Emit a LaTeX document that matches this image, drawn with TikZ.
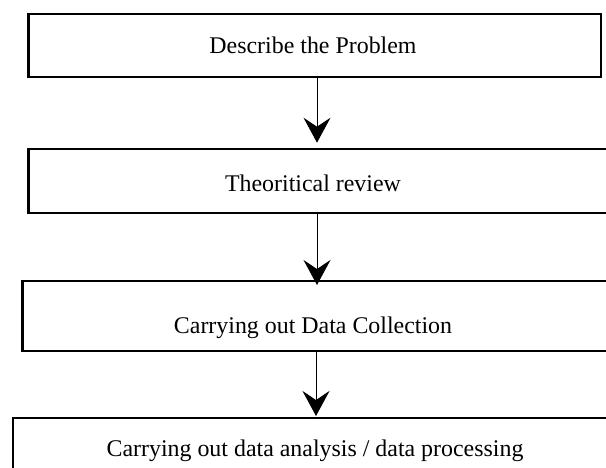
\documentclass[tikz,border=0pt]{standalone}
\usepackage{fontspec}
\setmainfont{Liberation Serif}
\usetikzlibrary{arrows.meta}
\begin{document}
\begin{tikzpicture}[x=1pt,y=-1pt,
  box/.style={draw, line width=2.5pt, inner sep=0pt},
  lbl/.style={anchor=base, inner sep=0pt, font=\fontsize{23.9}{28}\selectfont},
  arr/.style={line width=1pt, -{Stealth[length=25pt,width=27pt,inset=9pt]}}]
\useasboundingbox (0,0) rectangle (606,467);
\clip (0,0) rectangle (606,467);
\node[box, minimum width=572.5pt, minimum height=63pt] (b1) at (314.75,45.5) {};
\node[box, minimum width=591.5pt, minimum height=64pt] (b2) at (324.25,181) {};
\node[box, minimum width=597.5pt, minimum height=70pt] (b3) at (321.25,316) {};
\node[box, minimum width=607pt, minimum height=72pt] (b4) at (316.5,454) {};
\node[lbl] (l1) at (313,53) {Describe the Problem};
\node[lbl] (l2) at (313,191) {Theoritical review};
\node[lbl] (l3) at (313,333) {Carrying out Data Collection};
\node[lbl] (l4) at (315,456) {Carrying out data analysis / data processing};
\coordinate (t1) at (317,142.7);
\coordinate (t2) at (317,285);
\coordinate (t3) at (316,416);
\draw[arr] (b1.south -| t1) -- (t1);
\draw[arr] (b2.south -| t2) -- (t2);
\draw[arr] (b3.south -| t3) -- (t3);
\end{tikzpicture}
\end{document}
